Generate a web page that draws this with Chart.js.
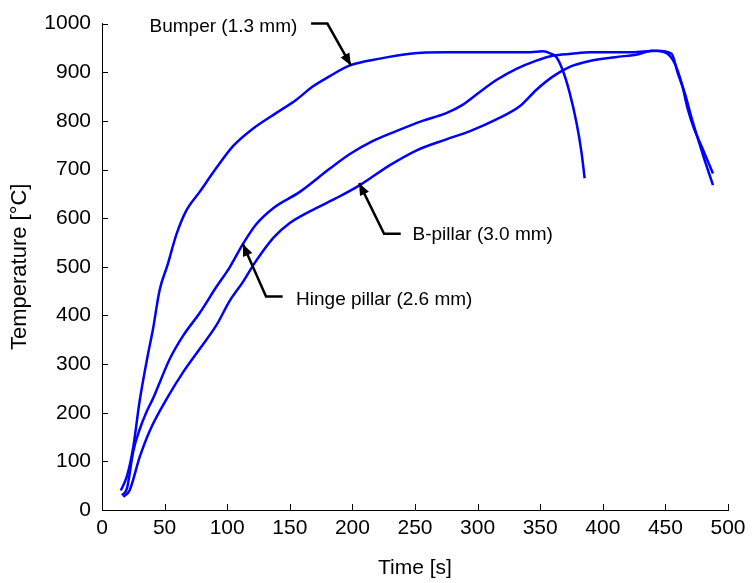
<!DOCTYPE html>
<html>
<head>
<meta charset="utf-8">
<script src="https://cdn.jsdelivr.net/npm/chart.js"></script>
<style>
  html, body { margin: 0; padding: 0; background: #fff; }
  #wrap { width: 755px; height: 583px; }
</style>
</head>
<body>
<div id="wrap"><canvas id="tempChart"></canvas></div>
<script>
// values
const bumperTime = [15, 20, 25, 30, 37, 40.6, 46, 52.5, 59.5, 67, 78, 91, 105, 120, 139, 155, 168, 182, 198, 222, 246, 275, 310, 342, 352, 358, 363, 368, 373.6, 379, 383, 385.5];
const bumperTemp = [40, 70, 130, 223, 324, 370, 452, 505, 567, 614, 654, 702, 749, 783, 816, 843, 870, 892, 914, 928, 938, 941, 941, 941, 943, 939, 931, 904, 857, 796, 735, 682];

const bpillarTime = [16, 20, 25, 30, 35.6, 40.7, 47, 54, 64.7, 78, 91.4, 102, 112.6, 123, 137, 158, 182, 198, 216.5, 235, 256, 275, 288, 302, 315, 331, 347, 360, 375, 390, 423, 443, 455, 460, 465.5, 470.5, 476, 481, 488];
const bpillarTemp = [30, 45, 121, 165, 202, 229, 268, 310, 358, 405, 459, 499, 547, 587, 621, 654, 702, 732, 759, 779, 800, 816, 833, 860, 884, 907, 924, 934, 938, 941, 941, 944, 938, 897, 857, 810, 763, 722, 668];

const hingeTime = [17, 22, 30, 38, 52.7, 64.7, 78, 91.4, 102, 112.6, 122, 137, 150, 166, 187, 206, 230, 251, 275, 294, 315, 333.6, 347, 360, 373.6, 389.5, 410, 428.5, 439, 449.5, 457.5, 463, 468, 473, 478.7, 488];
const hingeTemp = [27, 40, 108, 162, 233, 283, 331, 380, 430, 469, 508, 560, 590, 614, 641, 668, 709, 739, 762, 779, 803, 830, 864, 891, 911, 923, 931, 937, 944, 941, 918, 877, 823, 783, 749, 692];

const xTicks = [0, 50, 100, 150, 200, 250, 300, 350, 400, 450, 500];
const yTicks = [0, 100, 200, 300, 400, 500, 600, 700, 800, 900, 1000];

// labels with leader arrows: text, text anchor, then arrow path (last point = tip)
const labelNames = ['Bumper (1.3 mm)', 'B-pillar (3.0 mm)', 'Hinge pillar (2.6 mm)'];
const labelAlign = ['right', 'left', 'left'];
const labelAt = [[156, 994], [248, 566], [155, 433]];
const arrowPaths = [
  [[167, 1000], [180, 1000], [198.8, 914]],
  [[238.6, 568], [225.3, 568], [205.4, 672]],
  [[144.3, 439], [131, 439], [112.5, 547]]
];

function toPoints(xs, ys) {
  return xs.map((x, i) => ({ x: x, y: ys[i] }));
}

const FONT = 'Liberation Sans, Arial, sans-serif';

const annotatePlugin = {
  id: 'annotate',
  afterDraw(chart) {
    const ctx = chart.ctx;
    const xs = chart.scales.x, ys = chart.scales.y;
    const area = chart.chartArea;
    ctx.save();
    // inward tick marks
    ctx.strokeStyle = '#000';
    ctx.lineWidth = 1;
    ctx.beginPath();
    xTicks.forEach(v => {
      const px = Math.round(xs.getPixelForValue(v)) + 0.5;
      ctx.moveTo(px, area.bottom);
      ctx.lineTo(px, area.bottom - 6);
    });
    yTicks.forEach(v => {
      const py = Math.round(ys.getPixelForValue(v)) + 0.5;
      ctx.moveTo(area.left, py);
      ctx.lineTo(area.left + 6, py);
    });
    ctx.stroke();

    // arrows
    ctx.lineWidth = 2.5;
    ctx.fillStyle = '#000';
    arrowPaths.forEach(path => {
      const pts = path.map(p => [xs.getPixelForValue(p[0]), ys.getPixelForValue(p[1])]);
      ctx.beginPath();
      pts.forEach((p, i) => i ? ctx.lineTo(p[0], p[1]) : ctx.moveTo(p[0], p[1]));
      ctx.stroke();
      const a = pts[pts.length - 2], b = pts[pts.length - 1];
      const ang = Math.atan2(b[1] - a[1], b[0] - a[0]);
      const len = 12, wid = 5;
      ctx.beginPath();
      ctx.moveTo(b[0], b[1]);
      ctx.lineTo(b[0] - len * Math.cos(ang) + wid * Math.sin(ang), b[1] - len * Math.sin(ang) - wid * Math.cos(ang));
      ctx.lineTo(b[0] - len * Math.cos(ang) - wid * Math.sin(ang), b[1] - len * Math.sin(ang) + wid * Math.cos(ang));
      ctx.closePath();
      ctx.fill();
    });

    // label texts
    ctx.font = '19px ' + FONT;
    ctx.textBaseline = 'middle';
    labelNames.forEach((t, i) => {
      ctx.textAlign = labelAlign[i];
      ctx.fillText(t, xs.getPixelForValue(labelAt[i][0]), ys.getPixelForValue(labelAt[i][1]));
    });
    ctx.restore();
  }
};

const lineStyle = { borderColor: '#0000ff', borderWidth: 2.5, pointRadius: 0, cubicInterpolationMode: 'monotone', fill: false };

new Chart(document.getElementById('tempChart'), {
  type: 'line',
  data: {
    datasets: [
      Object.assign({ label: labelNames[0], data: toPoints(bumperTime, bumperTemp) }, lineStyle),
      Object.assign({ label: labelNames[1], data: toPoints(bpillarTime, bpillarTemp) }, lineStyle),
      Object.assign({ label: labelNames[2], data: toPoints(hingeTime, hingeTemp) }, lineStyle)
    ]
  },
  options: {
    responsive: true,
    maintainAspectRatio: false,
    animation: false,
    layout: { padding: { left: 0, top: 16, right: 27, bottom: 0 } },
    plugins: { legend: { display: false }, tooltip: { enabled: false } },
    scales: {
      x: {
        type: 'linear',
        min: 0, max: 500,
        afterFit(scale) { scale.height = 73; },
        afterBuildTicks(scale) { scale.ticks = xTicks.map(v => ({ value: v })); },
        grid: { display: true, drawOnChartArea: false, drawTicks: false, color: '#000' },
        border: { display: true, color: '#000', width: 1 },
        ticks: { color: '#000', padding: 6, maxRotation: 0, callback: v => String(v), font: { family: FONT, size: 21 } },
        title: { display: true, text: 'Time [s]', color: '#000', padding: { top: 0, bottom: 2 }, font: { family: FONT, size: 21 } }
      },
      y: {
        type: 'linear',
        min: 0, max: 1000,
        afterFit(scale) { scale.width = 102; },
        afterBuildTicks(scale) { scale.ticks = yTicks.map(v => ({ value: v })); },
        grid: { display: true, drawOnChartArea: false, drawTicks: false, color: '#000' },
        border: { display: true, color: '#000', width: 1 },
        ticks: { color: '#000', padding: 11, callback: v => String(v), font: { family: FONT, size: 21 } },
        title: { display: true, text: 'Temperature [°C]', color: '#000', padding: { top: 7, bottom: 0 }, font: { family: FONT, size: 22 } }
      }
    }
  },
  plugins: [annotatePlugin]
});
</script>
</body>
</html>
